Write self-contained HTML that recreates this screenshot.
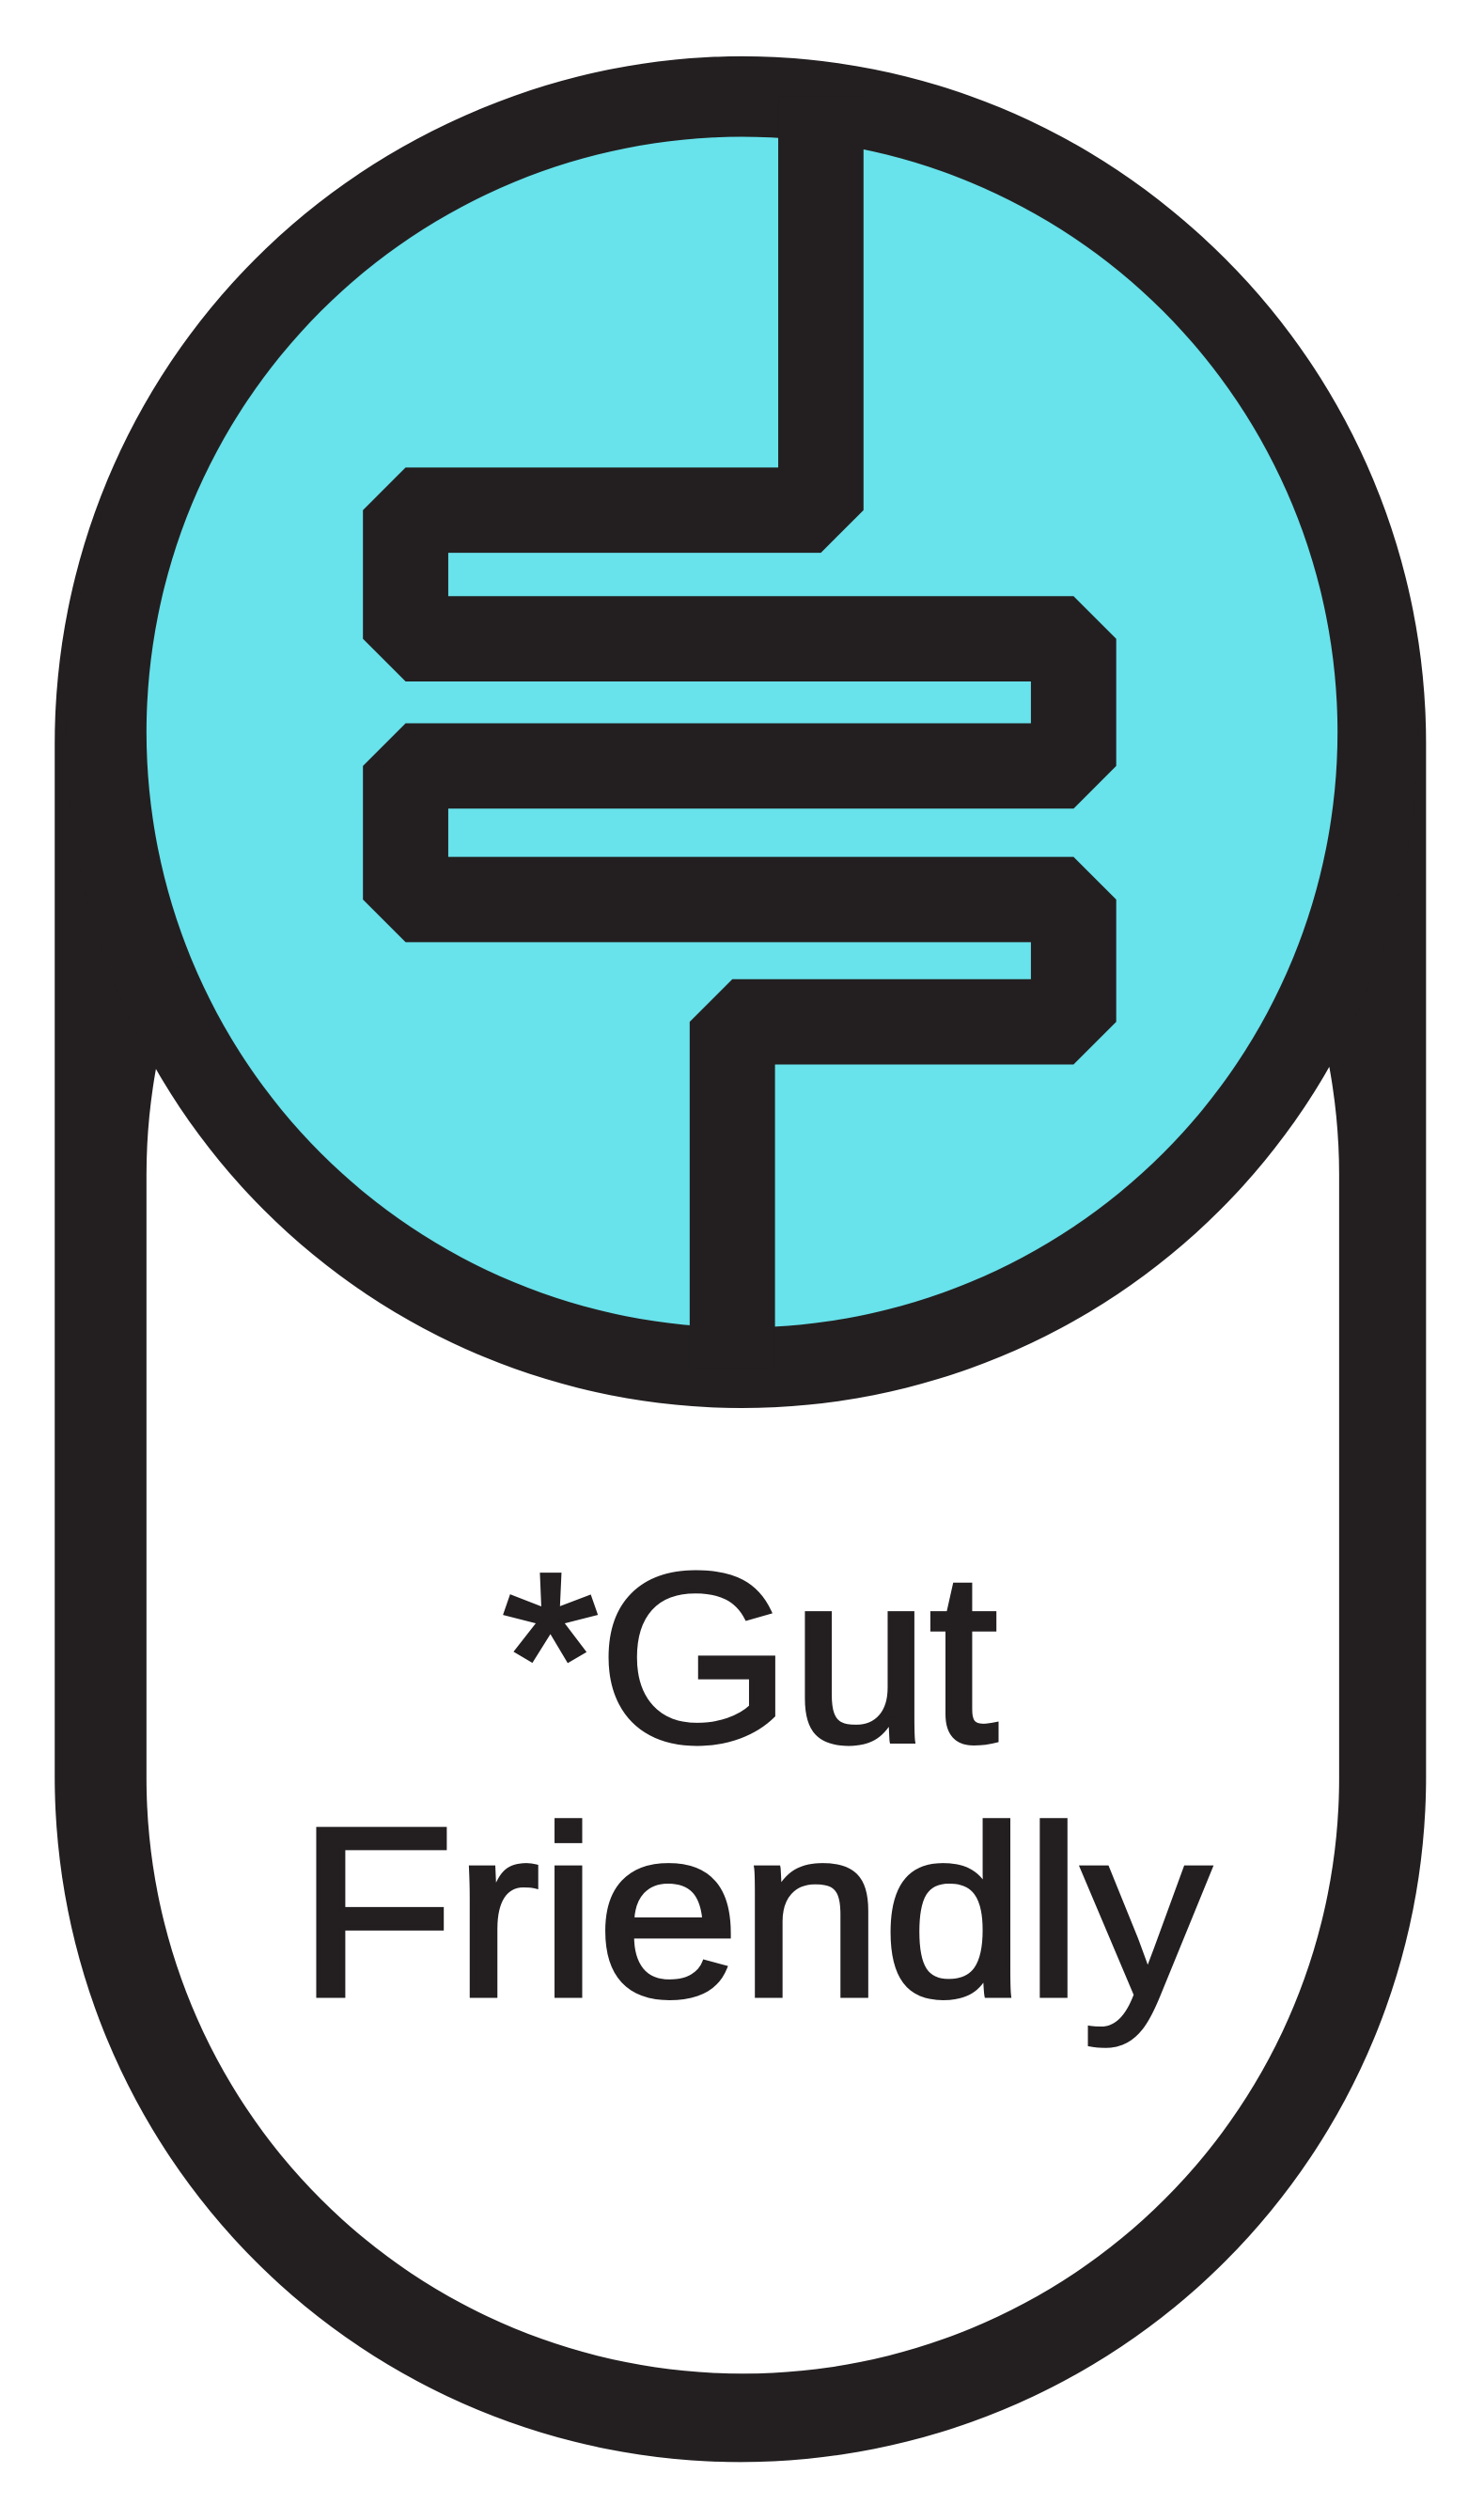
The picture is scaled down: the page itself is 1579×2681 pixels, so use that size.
<!DOCTYPE html>
<html><head><meta charset="utf-8"><style>
html,body{margin:0;padding:0;background:#fff;}
svg{display:block;}
</style></head><body>
<svg width="1579" height="2681" viewBox="0 0 922 1566" preserveAspectRatio="none" xmlns="http://www.w3.org/2000/svg">
  <rect x="34" y="36" width="852" height="1494" rx="426" ry="426" fill="#231f20"/>
  <rect x="91" y="360" width="741" height="1115" rx="370" ry="370" fill="#ffffff"/>
  <circle cx="461" cy="455" r="420" fill="#231f20"/>
  <circle cx="461" cy="455" r="370" fill="#68e2eb"/>
  <polyline points="510,60 510,317 252,317 252,397 667,397 667,476 252,476 252,559 667,559 667,635 455,635 455,850" fill="none" stroke="#231f20" stroke-width="53" stroke-linejoin="bevel"/>
  <text x="312" y="1082" font-family="Liberation Sans, sans-serif" font-size="150" fill="#231f20" stroke="#231f20" stroke-width="3" textLength="308" lengthAdjust="spacingAndGlyphs">*Gut</text>
  <text x="185" y="1240" font-family="Liberation Sans, sans-serif" font-size="150" fill="#231f20" stroke="#231f20" stroke-width="3" textLength="567" lengthAdjust="spacingAndGlyphs">Friendly</text>
</svg>
</body></html>
